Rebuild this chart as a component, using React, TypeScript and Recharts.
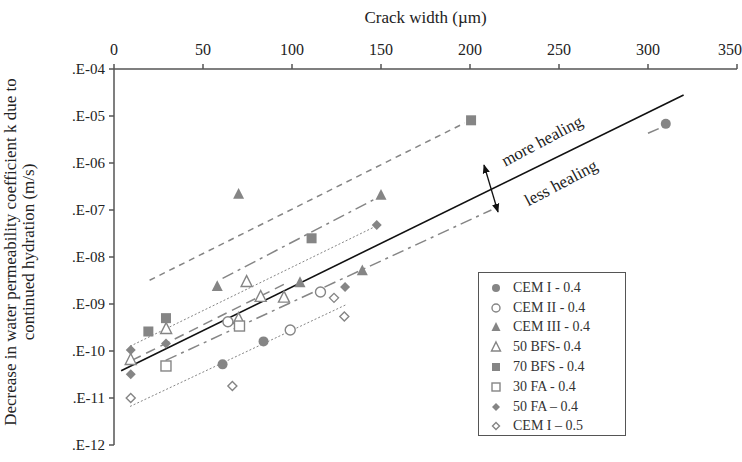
import { ComposedChart, Scatter, Line, XAxis, YAxis } from 'recharts';

const FONT = '"Liberation Serif", "Times New Roman", serif';
const GREY = '#858585';

const xTicks = [0, 50, 100, 150, 200, 250, 300, 350];
const yTicks = [1e-12, 1e-11, 1e-10, 1e-9, 1e-8, 1e-7, 1e-6, 1e-5, 1e-4];

// measured points: crack width (µm) / decrease in k (m/s)
const cemI04X = [61, 84, 310];
const cemI04K = [5.2e-11, 1.6e-10, 6.8e-6];
const cemII04X = [64, 99, 116];
const cemII04K = [4.2e-10, 2.8e-10, 1.8e-9];
const cemIII04X = [58, 70, 104.5, 139.5, 150];
const cemIII04K = [2.4e-9, 2.2e-7, 2.9e-9, 5.2e-9, 2.1e-7];
const bfs50X = [9.4, 29.3, 70, 74.5, 82.4, 95.5];
const bfs50K = [6.6e-11, 3.0e-10, 4.9e-10, 3.0e-9, 1.45e-9, 1.4e-9];
const bfs70X = [19.3, 29.2, 111, 200.6];
const bfs70K = [2.6e-10, 5.0e-10, 2.5e-8, 8.1e-6];
const fa30X = [29.2, 70.5];
const fa30K = [4.8e-11, 3.4e-10];
const fa50X = [9.4, 9.4, 29.2, 129.8, 147.6];
const fa50K = [1.05e-10, 3.2e-11, 1.45e-10, 2.3e-9, 4.8e-8];
const cemI05X = [9.4, 66.5, 123.6, 129.4];
const cemI05K = [1.0e-11, 1.8e-11, 1.35e-9, 5.4e-10];

// trend lines (end points)
const fitAllX = [4, 320];
const fitAllK = [3.8e-11, 2.8e-5];
const fitBfs70X = [20, 197];
const fitBfs70K = [3.2e-9, 7.1e-6];
const fitCemIIIX = [61, 150];
const fitCemIIIK = [3.5e-9, 2.0e-7];
const fitFa50X = [9, 147];
const fitFa50K = [1.26e-10, 4.5e-8];
const fitBfs50X = [10, 97];
const fitBfs50K = [6.3e-11, 2.8e-9];
const fitFa30X = [29, 212];
const fitFa30K = [6.3e-11, 1.0e-7];
const fitCemI04X = [300, 306];
const fitCemI04K = [4.3e-6, 5.4e-6];
const fitCemI05X = [9, 130];
const fitCemI05K = [6.6e-12, 9.5e-10];

const pts = (xs: number[], ks: number[]) => xs.map((x, i) => ({ x, k: ks[i] }));

type Mk = 'circle' | 'triangle' | 'square' | 'diamond';

function marker(kind: Mk, filled: boolean, s: number) {
  return (p: any) => {
    const { cx, cy } = p;
    if (cx == null || cy == null) return <g />;
    const fill = filled ? GREY : '#fff';
    const sw = filled ? 0 : 1.4;
    if (kind === 'circle') return <circle cx={cx} cy={cy} r={s / 2} fill={fill} stroke={GREY} strokeWidth={sw} />;
    if (kind === 'square') return <rect x={cx - s / 2} y={cy - s / 2} width={s} height={s} fill={fill} stroke={GREY} strokeWidth={sw} />;
    if (kind === 'diamond')
      return <polygon points={`${cx},${cy - s / 2} ${cx + s / 2},${cy} ${cx},${cy + s / 2} ${cx - s / 2},${cy}`} fill={fill} stroke={GREY} strokeWidth={sw} />;
    const h = s * 0.9;
    return <polygon points={`${cx},${cy - h / 2 - 1} ${cx + s / 2},${cy + h / 2} ${cx - s / 2},${cy + h / 2}`} fill={fill} stroke={GREY} strokeWidth={sw} />;
  };
}

const series = [
  { name: 'CEM I - 0.4', kind: 'circle' as Mk, filled: true, size: 10, data: pts(cemI04X, cemI04K) },
  { name: 'CEM II - 0.4', kind: 'circle' as Mk, filled: false, size: 10, data: pts(cemII04X, cemII04K) },
  { name: 'CEM III - 0.4', kind: 'triangle' as Mk, filled: true, size: 11, data: pts(cemIII04X, cemIII04K) },
  { name: '50 BFS- 0.4', kind: 'triangle' as Mk, filled: false, size: 11, data: pts(bfs50X, bfs50K) },
  { name: '70 BFS - 0.4', kind: 'square' as Mk, filled: true, size: 10, data: pts(bfs70X, bfs70K) },
  { name: '30 FA - 0.4', kind: 'square' as Mk, filled: false, size: 10, data: pts(fa30X, fa30K) },
  { name: '50 FA \u2013 0.4', kind: 'diamond' as Mk, filled: true, size: 10, data: pts(fa50X, fa50K) },
  { name: 'CEM I \u2013 0.5', kind: 'diamond' as Mk, filled: false, size: 9, data: pts(cemI05X, cemI05K) },
];

const trends = [
  { id: 'bfs70', data: pts(fitBfs70X, fitBfs70K), dash: '6 5', w: 1.5 },
  { id: 'cem3', data: pts(fitCemIIIX, fitCemIIIK), dash: '12 5 3 5', w: 1.5 },
  { id: 'fa50', data: pts(fitFa50X, fitFa50K), dash: '2 2', w: 1 },
  { id: 'bfs50', data: pts(fitBfs50X, fitBfs50K), dash: '10 6', w: 1.5 },
  { id: 'fa30', data: pts(fitFa30X, fitFa30K), dash: '12 5 3 5', w: 1.5 },
  { id: 'cem1', data: pts(fitCemI04X, fitCemI04K), dash: '', w: 1.5 },
  { id: 'cem105', data: pts(fitCemI05X, fitCemI05K), dash: '2 2', w: 1 },
];

const fmtK = (v: number) => '.E-' + String(-Math.round(Math.log10(v))).padStart(2, '0');

function LegendBox() {
  return (
    <div
      style={{
        position: 'absolute', left: 478, top: 272, width: 148, height: 164,
        border: '1.5px solid #555', background: '#fff', boxSizing: 'border-box',
        fontFamily: FONT, fontSize: 14, color: '#333', paddingTop: 5,
      }}
    >
      {series.map((s) => (
        <div key={s.name} style={{ display: 'flex', alignItems: 'center', height: 19.8 }}>
          <svg width={34} height={16}>{marker(s.kind, s.filled, s.size - 2)({ cx: 17, cy: 8 })}</svg>
          <span>{s.name}</span>
        </div>
      ))}
    </div>
  );
}

export default function App() {
  return (
    <div style={{ position: 'absolute', left: 0, top: 0, width: 742, height: 462, background: '#fff' }}>
      <ComposedChart width={742} height={462} margin={{ top: 5, right: 5, bottom: 17, left: 0 }}>
        <XAxis
          dataKey="x"
          type="number"
          orientation="top"
          domain={[0, 350]}
          ticks={xTicks}
          height={64}
          allowDataOverflow
          stroke="#555"
          strokeWidth={1.5}
          tickSize={5}
          tickMargin={9}
          tick={{ fill: '#222', fontFamily: FONT, fontSize: 16 }}
          label={{ value: 'Crack width (\u00b5m)', position: 'insideTop', offset: 6, fill: '#222', fontFamily: FONT, fontSize: 17 }}
        />
        <YAxis
          dataKey="k"
          type="number"
          scale="log"
          domain={[1e-12, 1e-4]}
          ticks={yTicks}
          allowDataOverflow
          width={114}
          stroke="#555"
          strokeWidth={1.5}
          tickSize={5}
          tickMargin={4}
          tickFormatter={fmtK}
          tick={{ fill: '#222', fontFamily: FONT, fontSize: 15 }}
        />
        {trends.map((t) => (
          <Line
            key={t.id}
            data={t.data}
            dataKey="k"
            type="linear"
            stroke={GREY}
            strokeWidth={t.w}
            strokeDasharray={t.dash}
            dot={false}
            activeDot={false}
            isAnimationActive={false}
          />
        ))}
        <Line
          data={pts(fitAllX, fitAllK)}
          dataKey="k"
          type="linear"
          stroke="#111"
          strokeWidth={1.6}
          dot={false}
          activeDot={false}
          isAnimationActive={false}
        />
        {series.map((s) => (
          <Scatter
            key={s.name}
            name={s.name}
            data={s.data}
            dataKey="k"
            shape={marker(s.kind, s.filled, s.size)}
            isAnimationActive={false}
          />
        ))}
      </ComposedChart>
      <svg width={742} height={462} style={{ position: 'absolute', left: 0, top: 0, pointerEvents: 'none' }}>
        <defs>
          <marker id="ah" viewBox="0 0 10 10" refX="9" refY="5" markerWidth="7" markerHeight="7" orient="auto-start-reverse">
            <path d="M0,1 L10,5 L0,9 z" fill="#111" />
          </marker>
        </defs>
        <g fontFamily={FONT} fill="#222" fontSize={17}>
          <text transform="translate(10,252) rotate(-90)" textAnchor="middle" dominantBaseline="central">
            Decrease in water permeability coefficient k due to
          </text>
          <text transform="translate(28,252) rotate(-90)" textAnchor="middle" dominantBaseline="central">
            continued hydration (m/s)
          </text>
          <text transform="translate(542,141) rotate(-28)" textAnchor="middle" dominantBaseline="central">more healing</text>
          <text transform="translate(561,183) rotate(-28)" textAnchor="middle" dominantBaseline="central">less healing</text>
        </g>
        <line x1={484} y1={165} x2={498} y2={212} stroke="#111" strokeWidth={1.3} markerStart="url(#ah)" markerEnd="url(#ah)" />
      </svg>
      <LegendBox />
    </div>
  );
}
